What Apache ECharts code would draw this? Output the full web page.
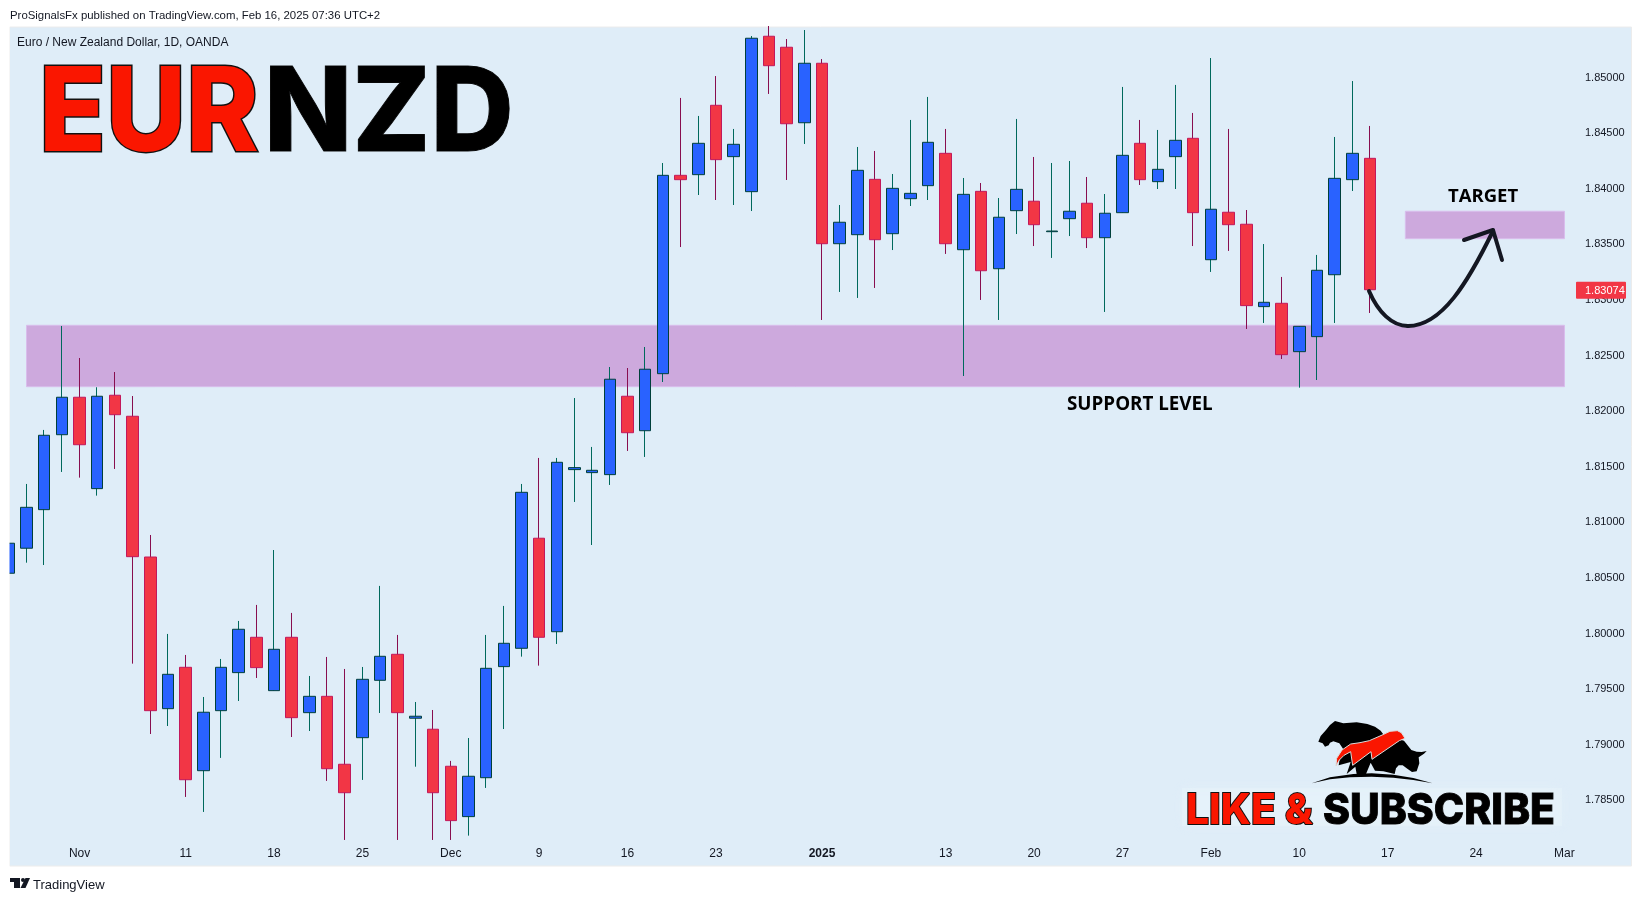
<!DOCTYPE html>
<html>
<head>
<meta charset="utf-8">
<title>EURNZD</title>
<style>
html, body { margin: 0; padding: 0; background: #fff; }
#chart { width: 1643px; height: 901px; }
</style>
<script src="https://cdn.jsdelivr.net/npm/echarts@6/dist/echarts.min.js"></script>
</head>
<body>
<div id="chart"></div>
<script>
// trading days, the last ones are empty space right of the last candle
const dates = [
  'Oct 28','Oct 29','Oct 30','Oct 31','Nov 1','Nov 4','Nov 5','Nov 6','Nov 7','Nov 8',
  'Nov 11','Nov 12','Nov 13','Nov 14','Nov 15','Nov 18','Nov 19','Nov 20','Nov 21','Nov 22',
  'Nov 25','Nov 26','Nov 27','Nov 28','Nov 29','Dec 2','Dec 3','Dec 4','Dec 5','Dec 6',
  'Dec 9','Dec 10','Dec 11','Dec 12','Dec 13','Dec 16','Dec 17','Dec 18','Dec 19','Dec 20',
  'Dec 23','Dec 24','Dec 26','Dec 27','Dec 30','Dec 31','Jan 2','Jan 3','Jan 6','Jan 7',
  'Jan 8','Jan 9','Jan 10','Jan 13','Jan 14','Jan 15','Jan 16','Jan 17','Jan 20','Jan 21',
  'Jan 22','Jan 23','Jan 24','Jan 27','Jan 28','Jan 29','Jan 30','Jan 31','Feb 3','Feb 4',
  'Feb 5','Feb 6','Feb 7','Feb 10','Feb 11','Feb 12','Feb 13','Feb 14','Feb 17','Feb 18',
  'Feb 19','Feb 20','Feb 21','Feb 24','Feb 25','Feb 26','Feb 27','Feb 28','Mar 3','Mar 4'
]
const opens = [
  1.80524,1.80749,1.81096,1.81770,1.82107,1.81285,1.82125,1.81936,1.80670,1.79306,
  1.79678,1.78748,1.79288,1.79630,1.79948,1.79468,1.79948,1.79270,1.79417,1.78806,
  1.79045,1.79561,1.79795,1.79220,1.79121,1.78788,1.78335,1.78685,1.79684,1.79849,
  1.80839,1.79998,1.81456,1.81429,1.81411,1.82116,1.81806,1.82319,1.84103,1.84109,
  1.84733,1.84271,1.83956,1.85354,1.85255,1.84576,1.85111,1.83488,1.83569,1.84067,
  1.83578,1.83893,1.84010,1.84301,1.83434,1.83959,1.83263,1.83785,1.83870,1.83596,
  1.83713,1.83852,1.83542,1.83767,1.84391,1.84046,1.84271,1.84436,1.83344,1.83771,
  1.83663,1.82922,1.82952,1.82517,1.82652,1.83209,1.84064,1.84256
]
const highs = [
  1.80823,1.81327,1.81813,1.82748,1.82460,1.82197,1.82334,1.82118,1.80868,1.79978,
  1.79789,1.79411,1.79753,1.80095,1.80239,1.80733,1.80167,1.79600,1.79771,1.79663,
  1.79681,1.80410,1.79969,1.79366,1.79294,1.78836,1.79042,1.79969,1.80230,1.81327,
  1.81561,1.81561,1.82100,1.81660,1.82379,1.82370,1.82559,1.84214,1.84799,1.84637,
  1.84996,1.84520,1.85356,1.85446,1.85329,1.85410,1.85149,1.83836,1.84358,1.84322,
  1.84115,1.84601,1.84808,1.84520,1.84079,1.84034,1.83899,1.84610,1.84268,1.84214,
  1.84232,1.84088,1.83935,1.84898,1.84601,1.84511,1.84916,1.84664,1.85158,1.84520,
  1.83791,1.83485,1.83189,1.82745,1.83387,1.84448,1.84951,1.84547
]
const lows = [
  1.80499,1.80619,1.80598,1.81435,1.81384,1.81222,1.81462,1.79711,1.79078,1.79150,
  1.78512,1.78377,1.78863,1.79375,1.79582,1.79468,1.79051,1.79105,1.78656,1.78125,
  1.78665,1.79267,1.78125,1.78784,1.78125,1.78125,1.78164,1.78593,1.79123,1.79774,
  1.79693,1.79888,1.81165,1.80778,1.81318,1.81624,1.81570,1.82244,1.83458,1.83926,
  1.83881,1.83836,1.83782,1.84835,1.84061,1.84385,1.82802,1.83054,1.83000,1.83090,
  1.83431,1.83827,1.83881,1.83396,1.82298,1.82982,1.82802,1.83575,1.83467,1.83360,
  1.83557,1.83449,1.82874,1.83767,1.84016,1.83980,1.83980,1.83467,1.83234,1.83423,
  1.82721,1.82775,1.82451,1.82193,1.82262,1.82775,1.83962,1.82865
]
const closes = [
  1.80794,1.81117,1.81765,1.82107,1.81680,1.82116,1.81950,1.80673,1.79288,1.79615,
  1.78667,1.79274,1.79678,1.80020,1.79675,1.79840,1.79225,1.79417,1.78766,1.78550,
  1.79570,1.79777,1.79270,1.79238,1.78550,1.78299,1.78698,1.79669,1.79894,1.81252,
  1.79948,1.81522,1.81474,1.81450,1.82269,1.81788,1.82359,1.84103,1.84064,1.84391,
  1.84244,1.84382,1.85336,1.85089,1.84567,1.85111,1.83488,1.83681,1.84148,1.83524,
  1.83986,1.83941,1.84400,1.83488,1.83932,1.83245,1.83726,1.83977,1.83659,1.83602,
  1.83780,1.83542,1.83762,1.84283,1.84064,1.84157,1.84418,1.83767,1.83798,1.83659,
  1.82931,1.82961,1.82490,1.82745,1.83249,1.84076,1.84301,1.83074
]
const lastClose = 1.83074

const priceTicks = [1.785,1.79,1.795,1.8,1.805,1.81,1.815,1.82,1.825,1.83,1.835,1.84,1.845,1.85]
const tickDates = ['Nov 1','Nov 11','Nov 18','Nov 25','Dec 2','Dec 9','Dec 16','Dec 23','Jan 2','Jan 13','Jan 20','Jan 27','Feb 3','Feb 10','Feb 17','Feb 24','Mar 3']
const tickTexts = ['Nov','11','18','25','Dec','9','16','23','2025','13','20','27','Feb','10','17','24','Mar']

const supportZone = [1.82202, 1.82754]
const targetZone = [1.83533, 1.83780]

const TEXT_COLOR = '#131722'
const PANEL_COLOR = '#dfedf8'
const ZONE_STYLE = { color: '#cda9dd', borderColor: '#d9bdec', borderWidth: 1 }
const BASE_FONT = '"Liberation Sans", Arial, sans-serif'
const HEAVY_FONT = 'Inter, "Open Sans", sans-serif'

const wickData = opens.map((o, i) => [o, closes[i], lows[i], highs[i]])
const bodyData = opens.map((o, i) => [o, closes[i], Math.min(o, closes[i]), Math.max(o, closes[i])])

const chart = echarts.init(document.getElementById('chart'))

//glow letters, one text element per colour
function bigText(text, x, y, size, fill, strokeWidth, squeeze) {
  return {
    type: 'text', x: x, y: y, scaleX: squeeze, z: 50, silent: true,
    style: {
      text: text, fill: fill, stroke: '#111', lineWidth: strokeWidth,
      font: '800 ' + size + 'px ' + HEAVY_FONT, verticalAlign: 'middle',
      shadowColor: 'rgba(255,255,255,0.9)', shadowBlur: 14
    }
  }
}

function plainText(text, x, y, font, fill) {
  return { type: 'text', x: x, y: y, z: 40, silent: true, style: { text: text, fill: fill || TEXT_COLOR, font: font, verticalAlign: 'middle' } }
}

function polygon(points, style) {
  return { type: 'polygon', z: 40, silent: true, shape: { points: points }, style: style }
}

function curve(x1, y1, cx1, cy1, cx2, cy2, x2, y2) {
  return {
    type: 'bezierCurve', z: 25, silent: true,
    shape: { x1: x1, y1: y1, cpx1: cx1, cpy1: cy1, cpx2: cx2, cpy2: cy2, x2: x2, y2: y2 },
    style: { fill: 'none', stroke: '#141722', lineWidth: 4, lineCap: 'round' }
  }
}

function buildGraphics() {
  const tagY = chart.convertToPixel({ yAxisIndex: 0 }, lastClose)
  return [
    // chart panel and the white margin that cuts the first candle
    { type: 'rect', z: -10, silent: true, shape: { x: 9.5, y: 27, width: 1622, height: 839 }, style: { fill: PANEL_COLOR, stroke: '#ececec', lineWidth: 1 } },
    { type: 'rect', z: 30, silent: true, shape: { x: 0, y: 26, width: 9.5, height: 842 }, style: { fill: '#fff' } },

    plainText('ProSignalsFx published on TradingView.com, Feb 16, 2025 07:36 UTC+2', 10, 16, '11.4px ' + BASE_FONT),
    plainText('Euro / New Zealand Dollar, 1D, OANDA', 17, 43, '12px ' + BASE_FONT),
    plainText('TradingView', 33, 885, '13px ' + BASE_FONT),
    polygon([[10, 878], [20, 878], [20, 888], [14, 888], [14, 882], [10, 882]], { fill: TEXT_COLOR }),
    polygon([[25.5, 878], [30, 878], [25.5, 888], [20.5, 888]], { fill: TEXT_COLOR }),
    { type: 'circle', z: 40, silent: true, shape: { cx: 23, cy: 880, r: 2 }, style: { fill: TEXT_COLOR } },

    bigText('EUR', 39, 116, 117, '#fa1600', 3, 0.94),
    bigText('NZD', 264, 116, 117, '#000', 1, 0.985),

    plainText('SUPPORT LEVEL', 1067, 405, '700 18.8px "Open Sans", sans-serif', '#000'),
    plainText('TARGET', 1448, 197, '700 18.5px "Open Sans", sans-serif', '#000'),

    // price tag of the last close
    { type: 'rect', z: 35, silent: true, shape: { x: 1576, y: tagY - 8, width: 50, height: 17, r: 1 }, style: { fill: '#f23645' } },
    plainText('1.83074', 1585, tagY + 1, '11px ' + BASE_FONT, '#fff'),

    // projected path
    curve(1369, 291, 1378, 312, 1392, 326, 1408, 326),
    curve(1408, 326, 1442, 326, 1468, 282, 1493, 231),
    { type: 'polyline', z: 25, silent: true, shape: { points: [[1464, 240], [1493, 230], [1502, 260]] }, style: { fill: 'none', stroke: '#141722', lineWidth: 4, lineCap: 'round', lineJoin: 'round' } },

    // bull and bear logo, drawn at 3x of its pixels
    {
      type: 'group', x: 1280, y: 700, scaleX: 1 / 3, scaleY: 1 / 3, z: 40, silent: true,
      children: [
        polygon([[115, 125], [122, 108], [138, 90], [150, 75], [165, 63], [190, 70], [230, 67], [262, 72], [285, 80], [302, 92], [312, 106], [372, 122], [394, 150], [410, 155], [425, 156], [440, 153], [432, 161], [416, 172], [418, 190], [410, 214], [396, 216], [382, 206], [368, 196], [356, 196], [348, 205], [344, 222], [310, 214], [285, 212], [272, 188], [258, 222], [230, 222], [226, 200], [200, 222], [212, 186], [176, 196], [180, 172], [190, 148], [178, 130], [160, 124], [150, 128], [146, 136], [135, 140], [128, 130]], { fill: '#000' }),
        Object.assign(polygon([[168, 198], [170, 175], [186, 150], [212, 132], [240, 128], [268, 122], [300, 108], [330, 94], [352, 92], [364, 98], [375, 115], [358, 122], [276, 178], [273, 155], [218, 196], [212, 155], [192, 166], [178, 180]], { fill: '#fa1600', stroke: '#dcdcdc', lineWidth: 3 }), { z: 41 }),
        polygon([[95, 250], [150, 232], [220, 222], [275, 220], [340, 224], [400, 234], [458, 250], [400, 240], [340, 233], [275, 230], [210, 232], [150, 238]], { fill: '#000' })
      ]
    },

    // pale box behind the subscribe text
    { type: 'rect', z: 20, silent: true, shape: { x: 1182, y: 788, width: 380, height: 38 }, style: { fill: 'rgba(240,248,253,0.3)', shadowColor: 'rgba(240,248,253,0.6)', shadowBlur: 14 } },
    bigText('LIKE &', 1186, 811, 43, '#fa1600', 2, 0.95),
    bigText('SUBSCRIBE', 1323, 811, 43, '#000', 1, 0.95)
  ]
}

const option = {
  backgroundColor: '#fff',
  animation: false,
  grid: { left: -0.24, top: 27, width: 1591.2, height: 811, containLabel: false },
  xAxis: {
    type: 'category',
    data: dates,
    boundaryGap: true,
    axisLine: { show: false },
    axisTick: { show: false },
    splitLine: { show: false },
    axisLabel: {
      margin: 10,
      color: TEXT_COLOR,
      fontFamily: BASE_FONT,
      fontSize: 12,
      hideOverlap: false,
      interval: (index, value) => tickDates.includes(value),
      formatter: value => {
        const text = tickTexts[tickDates.indexOf(value)]
        return text === '2025' ? '{b|2025}' : text
      },
      rich: { b: { fontWeight: 'bold', fontSize: 12, fontFamily: BASE_FONT, color: TEXT_COLOR } }
    }
  },
  yAxis: {
    type: 'value',
    position: 'right',
    offset: -6,
    min: 1.781427,
    max: 1.854371,
    axisLine: { show: false },
    axisTick: { show: false },
    splitLine: { show: false },
    axisLabel: {
      margin: 0,
      color: TEXT_COLOR,
      fontFamily: BASE_FONT,
      fontSize: 11,
      customValues: priceTicks,
      formatter: value => '{p|' + value.toFixed(5) + '}',
      rich: { p: { fontSize: 11, fontFamily: BASE_FONT, color: TEXT_COLOR, padding: [4, 0, 0, 0] } }
    }
  },
  series: [
    {
      name: 'wicks',
      type: 'candlestick',
      data: wickData,
      barWidth: 1,
      z: 3,
      itemStyle: { color: '#00695c', color0: '#880e4f', borderColor: '#00695c', borderColor0: '#880e4f', borderWidth: 1 },
      markArea: {
        silent: true,
        itemStyle: ZONE_STYLE,
        label: { show: false },
        data: [
          [{ xAxis: dates[1], yAxis: supportZone[1] }, { xAxis: dates[88], yAxis: supportZone[0] }],
          [{ xAxis: dates[79], yAxis: targetZone[1] }, { xAxis: dates[88], yAxis: targetZone[0] }]
        ]
      }
    },
    {
      name: 'bodies',
      type: 'candlestick',
      data: bodyData,
      barWidth: 12,
      z: 4,
      itemStyle: { color: '#2962ff', color0: '#f23645', borderColor: '#00403a', borderColor0: '#c2185b', borderWidth: 1 }
    }
  ]
}

chart.setOption(option)
chart.setOption({ graphic: buildGraphics() })
</script>
</body>
</html>
